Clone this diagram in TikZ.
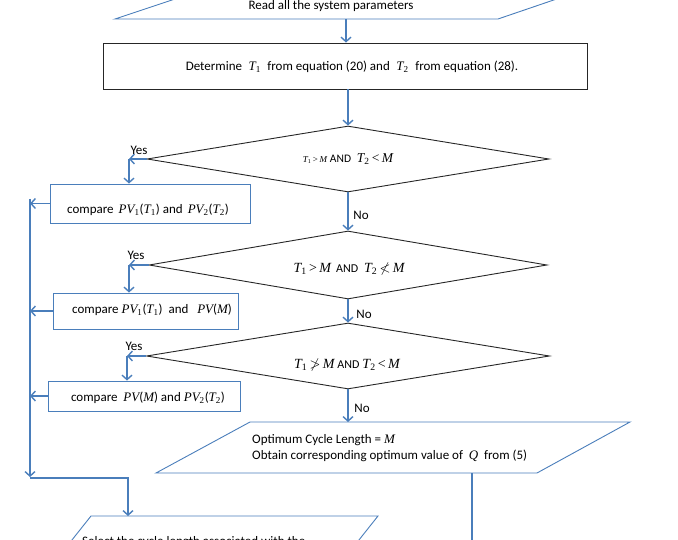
\documentclass[tikz,border=0pt]{standalone}
\usepackage{fontspec}
\usepackage{amssymb}
\usetikzlibrary{arrows.meta,shapes.geometric}
\setmainfont{Carlito}
\newfontfamily\tnr{Liberation Serif}
\definecolor{ofblue}{HTML}{4A7EBB}
\newcommand\mv[1]{{\tnr\itshape #1}}
\newcommand\sbs[1]{\textsubscript{\tnr #1}}
\newcommand\Tsub[2]{\mv{#1}\sbs{#2}}
\newcommand\rel[1]{{\tnr\,#1\,}}
\begin{document}
\begin{tikzpicture}[x=1pt,y=-1pt,
  conn/.style={draw=ofblue,line width=1.4pt,-{Straight Barb[length=4.5pt,width=10pt]}},
  plain/.style={draw=ofblue,line width=1.4pt},
  bluebox/.style={draw=ofblue,line width=0.9pt,minimum width=#1,inner sep=0pt},
  dia/.style={diamond,draw=black!85,line width=0.9pt,inner sep=0pt,aspect=6},
  para/.style={draw=ofblue,line width=0.9pt},
  lbl/.style={font=\fontsize{13}{15}\selectfont,inner sep=0pt},
  every node/.style={font=\fontsize{13}{15}\selectfont}]
\useasboundingbox (0,0) rectangle (678,540);
\clip (0,0) rectangle (678,540);
% top parallelogram
\draw[para] (202,-10) -- (115,19) -- (498,19) -- (583,-10);
\node[lbl] (read) at (331,6) {Read all the system parameters};
\coordinate (readb) at (346,19);
% determine rectangle
\node[draw=black!85,line width=0.9pt,minimum width=484pt,minimum height=46pt,inner sep=0pt] (det) at (345,66) {};
\node[lbl] (dett) at (352,67)
  {Determine \;\Tsub{T}{1}\; from equation (20) and \;\Tsub{T}{2}\; from equation (28).};
\draw[conn] (readb) -- (readb |- det.north);
% diamonds
\node[dia,minimum width=402pt,minimum height=66pt] (d1) at (348,159) {};
\node[dia,minimum width=398pt,minimum height=68pt] (d2) at (348,265) {};
\node[dia,minimum width=403pt,minimum height=66pt] (d3) at (348,356) {};
\node[lbl] (d1t) at (348,159) {{\fontsize{9}{10}\selectfont\Tsub{T}{1}\rel{>}\mv{M}} {\fontsize{11.5}{13}\selectfont AND} \ {\fontsize{13.5}{14}\selectfont\Tsub{T}{2}\rel{<}\mv{M}}};
\node[lbl] (d2t) at (349,269) {{\fontsize{14}{15}\selectfont\Tsub{T}{1}\rel{>}\mv{M}} \,{\fontsize{12}{13}\selectfont AND} \ {\fontsize{14}{15}\selectfont\Tsub{T}{2}\,$\nless$\,\mv{M}}};
\node[lbl] (d3t) at (347,365) {{\fontsize{14}{15}\selectfont\Tsub{T}{1}\,$\ngtr$\,\mv{M}} {\fontsize{12}{13}\selectfont AND} {\fontsize{14}{15}\selectfont\Tsub{T}{2}\rel{<}\mv{M}}};
\draw[conn] (d1.north |- det.south) -- (d1.north);
\draw[conn] (d1.south) -- (d2.north);
\draw[conn] (d2.south) -- (d3.north);
\node[lbl] (no1) at (361,215) {No};
\node[lbl] (no2) at (364,314) {No};
\node[lbl] (no3) at (362,408) {No};
% compare boxes
\node[bluebox=200pt,minimum height=39pt] (b1) at (150,203.5) {};
\node[lbl] (b1t) at (148,210) {compare \,\mv{PV}\sbs{1}(\Tsub{T}{1}) and \,\mv{PV}\sbs{2}(\Tsub{T}{2})};
\node[bluebox=185pt,minimum height=36pt] (b2) at (145.5,311) {};
\node[lbl] (b2t) at (152,310) {compare \mv{PV}\sbs{1}(\Tsub{T}{1}) \ and \ \ \mv{PV}(\mv{M})};
\node[bluebox=192pt,minimum height=30pt] (b3) at (144,396) {};
\node[lbl] (b3t) at (148,398) {compare \ \mv{PV}(\mv{M}) and \mv{PV}\sbs{2}(\Tsub{T}{2})};
% yes branches
\coordinate (y1) at (129,159);
\coordinate (y2) at (129,265);
\coordinate (y3) at (127,356);
\draw[conn] (d1.west) -- (y1);
\draw[conn] (y1) -- (y1 |- b1.north);
\draw[conn] (d2.west) -- (y2);
\draw[conn] (y2) -- (y2 |- b2.north);
\draw[conn] (d3.west) -- (y3);
\draw[conn] (y3) -- (y3 |- b3.north);
\node[lbl] (yes1) at (139,150) {Yes};
\node[lbl] (yes2) at (136,255) {Yes};
\node[lbl] (yes3) at (134,346) {Yes};
% left collector
\coordinate (lx) at (30,0);
\draw[conn] (b1.west) -- (b1.west -| lx);
\draw[conn] (b2.west) -- (b2.west -| lx);
\draw[conn] (b3.west) -- (b3.west -| lx);
\coordinate (ltop) at (30,199);
\coordinate (lbot) at (30,477);
\draw[conn] (ltop) -- (lbot);
\coordinate (jn) at (30,478);
\coordinate (selt) at (128,516);
\draw[conn] (jn) -| (selt);
% optimum parallelogram
\draw[para] (250,422) -- (630,422) -- (537,473) -- (156,473) -- cycle;
\coordinate (optt) at (348,422);
\draw[conn] (d3.south) -- (optt);
\node[lbl,anchor=west,align=left] (optx) at (252,448) {Optimum Cycle Length = \mv{M}\\[1pt]Obtain corresponding optimum value of \ \mv{Q} \ from (5)};
\coordinate (optb) at (472,473);
\coordinate (optend) at (472,550);
\draw[plain] (optb) -- (optend);
% select parallelogram
\draw[para] (64,550) -- (91,516) -- (378,516) -- (351,550);
\node[lbl,anchor=west] (selx) at (82,542) {Select the cycle length associated with the};
\end{tikzpicture}
\end{document}
